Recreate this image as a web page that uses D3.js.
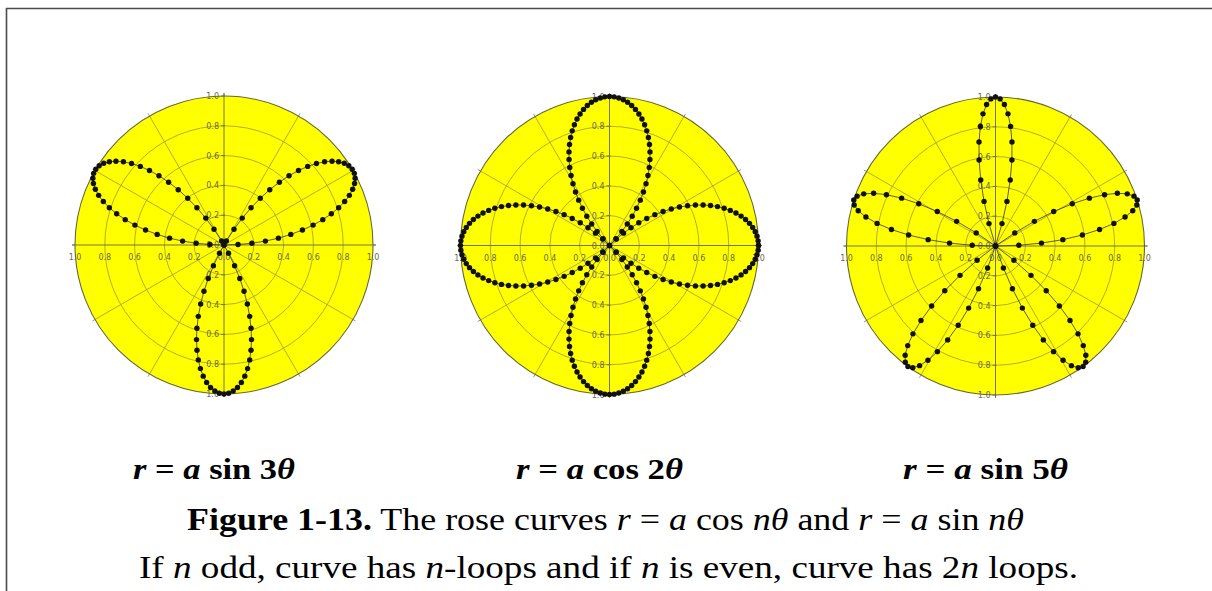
<!DOCTYPE html>
<html>
<head>
<meta charset="utf-8">
<script src="https://cdn.jsdelivr.net/npm/d3@7"></script>
<style>
  html, body { margin: 0; padding: 0; background: #fff; }
  svg { display: block; }
</style>
</head>
<body>
<svg id="fig" width="1212" height="591"></svg>
<script>
// Three rose curves r = a·trig(nθ)
const roseTrig = ["sin", "cos", "sin"];
const roseN = [3, 2, 5];
const roseA = [1, 1, 1];
const roseSamples = [200, 200, 200];          // markers per full turn
const ringValues = [0.2, 0.4, 0.6, 0.8, 1.0];
const ringLabels = ["0.2", "0.4", "0.6", "0.8", "1.0"];
const spokeAngles = [0, 30, 60, 90, 120, 150, 180, 210, 240, 270, 300, 330];

// Formula under each plot: [text, italic]
const formulaParts = [
  [["r", 1], [" = ", 0], ["a", 1], [" sin ", 0], ["3", 0], ["θ", 1]],
  [["r", 1], [" = ", 0], ["a", 1], [" cos ", 0], ["2", 0], ["θ", 1]],
  [["r", 1], [" = ", 0], ["a", 1], [" sin ", 0], ["5", 0], ["θ", 1]]
];
// Caption lines: [text, italic, bold]
const captionLine1 = [
  ["Figure 1-13.", 0, 1], [" The rose curves ", 0, 0],
  ["r", 1, 0], [" = ", 0, 0], ["a", 1, 0], [" cos ", 0, 0], ["nθ", 1, 0],
  [" and ", 0, 0],
  ["r", 1, 0], [" = ", 0, 0], ["a", 1, 0], [" sin ", 0, 0], ["nθ", 1, 0]
];
const captionLine2 = [
  ["If ", 0, 0], ["n", 1, 0], [" odd, curve has ", 0, 0], ["n", 1, 0],
  ["-loops and if ", 0, 0], ["n", 1, 0], [" is even, curve has 2", 0, 0],
  ["n", 1, 0], [" loops.", 0, 0]
];

const svg = d3.select("#fig");
const serif = "'Liberation Serif', 'Times New Roman', serif";

// page frame (top and left rules)
svg.append("path")
  .attr("d", "M6.5,591 V8.5 H1212")
  .attr("fill", "none").attr("stroke", "#4a4a4a").attr("stroke-width", 1.6);

const R = 149;
const centers = [[224, 245], [609.5, 245.5], [995.5, 246]];
const rScale = d3.scaleLinear().domain([0, 1]).range([0, R]);
const toRad = d => d * Math.PI / 180;

centers.forEach((c, k) => {
  const g = svg.append("g").attr("transform", `translate(${c[0]},${c[1]})`);

  // yellow disc
  g.append("circle").attr("r", rScale(1)).attr("fill", "#ffff00");

  // concentric rings
  g.selectAll("circle.ring").data(ringValues.slice(0, -1)).join("circle")
    .attr("class", "ring")
    .attr("r", d => rScale(d))
    .attr("fill", "none").attr("stroke", "#aaa13a").attr("stroke-width", 0.9);

  // spokes every 30°
  g.selectAll("line.spoke").data(spokeAngles.filter(a => a % 90 !== 0)).join("line")
    .attr("class", "spoke")
    .attr("x1", 0).attr("y1", 0)
    .attr("x2", a => rScale(1) * Math.cos(toRad(a)))
    .attr("y2", a => -rScale(1) * Math.sin(toRad(a)))
    .attr("stroke", "#aaa13a").attr("stroke-width", 0.9);

  // small outer ticks at spoke ends
  g.selectAll("line.otick").data(spokeAngles).join("line")
    .attr("class", "otick")
    .attr("x1", a => rScale(1) * Math.cos(toRad(a)))
    .attr("y1", a => -rScale(1) * Math.sin(toRad(a)))
    .attr("x2", a => (rScale(1) + 3) * Math.cos(toRad(a)))
    .attr("y2", a => -(rScale(1) + 3) * Math.sin(toRad(a)))
    .attr("stroke", "#777").attr("stroke-width", 0.8);

  // main axes
  g.append("line").attr("x1", -rScale(1) - 3).attr("x2", rScale(1) + 3)
    .attr("y1", 0).attr("y2", 0).attr("stroke", "#74744f").attr("stroke-width", 1);
  g.append("line").attr("y1", -rScale(1) - 3).attr("y2", rScale(1) + 3)
    .attr("x1", 0).attr("x2", 0).attr("stroke", "#74744f").attr("stroke-width", 1);

  // outer boundary
  g.append("circle").attr("r", rScale(1))
    .attr("fill", "none").attr("stroke", "#66663c").attr("stroke-width", 1.1);

  // ring labels along the axes
  const lab = g.append("g").attr("font-family", "'DejaVu Sans', sans-serif")
    .attr("font-size", 8).attr("fill", "#68684e");
  [-1, 1].forEach(side => {
    lab.selectAll(null).data(ringValues).join("text")
      .attr("x", d => side * rScale(d)).attr("y", 15)
      .attr("text-anchor", "middle").text((d, i) => ringLabels[i]);
    lab.selectAll(null).data(ringValues).join("text")
      .attr("x", -5).attr("y", d => side * rScale(d) + 3)
      .attr("text-anchor", "end").text((d, i) => ringLabels[i]);
    g.selectAll(null).data(ringValues).join("line")
      .attr("x1", -3).attr("x2", 1)
      .attr("y1", d => side * rScale(d)).attr("y2", d => side * rScale(d))
      .attr("stroke", "#68684e").attr("stroke-width", 0.8);
  });
  lab.append("text").attr("x", 0).attr("y", 15).attr("text-anchor", "middle").text("0.0");
  lab.append("text").attr("x", -5).attr("y", 3).attr("text-anchor", "end").text("0.0");

  // rose curve samples
  const n = roseN[k], a = roseA[k];
  const trig = roseTrig[k] === "sin" ? Math.sin : Math.cos;
  const span = n % 2 ? Math.PI : 2 * Math.PI;        // odd n closes after π
  const count = Math.round(roseSamples[k] * span / (2 * Math.PI));
  const thetas = d3.range(count + 1).map(i => i * span / count);
  const pts = thetas.map(t => ({ theta: t, r: a * trig(n * t) }));

  // lineRadial measures angles clockwise from 12 o'clock
  const radial = d3.lineRadial()
    .angle(d => Math.PI / 2 - d.theta)
    .radius(d => rScale(d.r));
  g.append("path").attr("d", radial(pts))
    .attr("fill", "none").attr("stroke", "#333").attr("stroke-width", 0.8);

  g.selectAll("circle.mark").data(pts).join("circle")
    .attr("class", "mark")
    .attr("transform", d => `translate(${d3.pointRadial(Math.PI / 2 - d.theta, rScale(d.r))})`)
    .attr("r", 2.7).attr("fill", "#111");
});

// formula labels under the plots
const formulaBox = [[133, 295], [516, 683], [903, 1068]];
formulaParts.forEach((parts, k) => {
  const t = svg.append("text")
    .attr("x", formulaBox[k][0]).attr("y", 479)
    .attr("font-family", serif).attr("font-size", 30).attr("font-weight", "bold")
    .attr("fill", "#000")
    .attr("textLength", formulaBox[k][1] - formulaBox[k][0])
    .attr("lengthAdjust", "spacingAndGlyphs");
  t.selectAll("tspan").data(parts).join("tspan")
    .attr("font-style", d => d[1] ? "italic" : "normal")
    .text(d => d[0]);
});

// two caption lines
function caption(parts, x0, x1, y, size) {
  const t = svg.append("text")
    .attr("x", x0).attr("y", y)
    .attr("font-family", serif).attr("font-size", size).attr("fill", "#000")
    .attr("textLength", x1 - x0).attr("lengthAdjust", "spacingAndGlyphs")
    .attr("xml:space", "preserve").style("white-space", "pre");
  t.selectAll("tspan").data(parts).join("tspan")
    .attr("font-style", d => d[1] ? "italic" : "normal")
    .attr("font-weight", d => d[2] ? "bold" : "normal")
    .text(d => d[0]);
}
caption(captionLine1, 187, 1024, 530, 31);
caption(captionLine2, 139, 1078, 578, 31);
</script>
</body>
</html>
